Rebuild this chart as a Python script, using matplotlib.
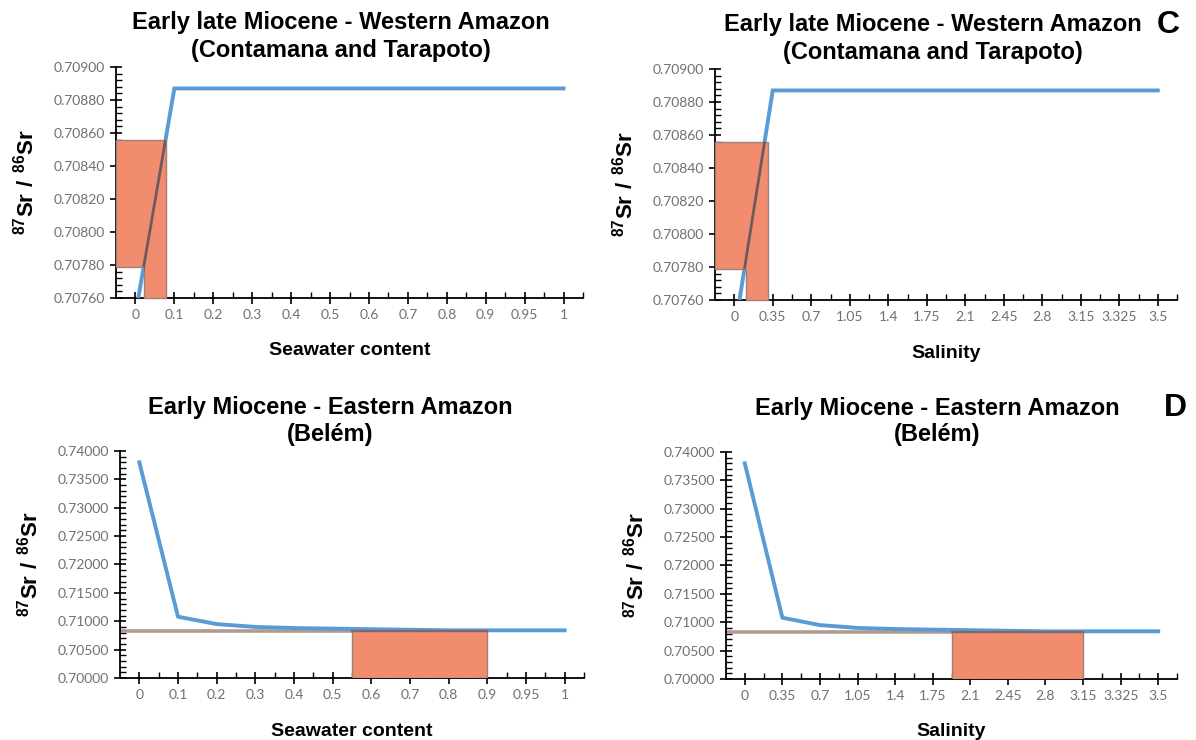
import matplotlib
matplotlib.use("Agg")
import matplotlib.pyplot as plt
from matplotlib.patches import Polygon, Rectangle
from matplotlib.ticker import FixedLocator, MultipleLocator, FormatStrFormatter

plt.rcParams['font.family'] = ['Liberation Sans', 'DejaVu Sans']
plt.rcParams['mathtext.fontset'] = 'custom'
plt.rcParams['mathtext.bf'] = 'Liberation Sans:bold'
plt.rcParams['mathtext.rm'] = 'Liberation Sans:bold'

# ---------------- data ----------------
seawater_labels = ['0', '0.1', '0.2', '0.3', '0.4', '0.5', '0.6', '0.7', '0.8', '0.9', '0.95', '1']
salinity_labels = ['0', '0.35', '0.7', '1.05', '1.4', '1.75', '2.1', '2.45', '2.8', '3.15', '3.325', '3.5']

west_sr_seawater = [0.70750, 0.70887, 0.70887, 0.70887, 0.70887, 0.70887,
                    0.70887, 0.70887, 0.70887, 0.70887, 0.70887, 0.70887]
west_sr_salinity = [0.70740, 0.70887, 0.70887, 0.70887, 0.70887, 0.70887,
                    0.70887, 0.70887, 0.70887, 0.70887, 0.70887, 0.70887]
east_sr = [0.73800, 0.71080, 0.70950, 0.70900, 0.70880, 0.70870,
           0.70860, 0.70850, 0.70840, 0.70840, 0.70840, 0.70840]

west_measured_range = (0.70779, 0.70856)
west_mix_seawater = (0.21, 0.78)     # in category positions
west_mix_salinity = (0.31, 0.87)
east_measured = 0.70825
east_mix = (5.5, 9.0)                # in category positions

west_ylim = (0.7076, 0.7090)
east_ylim = (0.7000, 0.7400)

BLUE = '#5B9BD5'
SALMON = '#F28C6E'
EDGE = '#9C8274'
TICKCOL = '#707070'

W, H = 1196, 740
fig = plt.figure(figsize=(W / 100, H / 100), dpi=100)


def px_axes(x0, x1, y0, y1):
    ax = fig.add_axes([x0 / W, 1 - y1 / H, (x1 - x0) / W, (y1 - y0) / H])
    ax._px = (x0, x1, y0, y1)
    return ax


def style(ax, labels, ylim, ymajor, yminor, title, xlabel, title_shift):
    n = len(labels)
    ax.set_xlim(-0.5, n - 0.5)
    ax.set_ylim(*ylim)
    for s in ('top', 'right'):
        ax.spines[s].set_visible(False)
    for s in ('left', 'bottom'):
        ax.spines[s].set_linewidth(1.3)
        ax.spines[s].set_color('black')
    ax.xaxis.set_major_locator(FixedLocator(list(range(n))))
    ax.xaxis.set_minor_locator(FixedLocator([i + 0.5 for i in range(n)]))
    ax.set_xticklabels(labels)
    ax.yaxis.set_major_locator(MultipleLocator(ymajor))
    ax.yaxis.set_minor_locator(MultipleLocator(yminor))
    ax.yaxis.set_major_formatter(FormatStrFormatter('%.5f'))
    ax.tick_params(which='major', direction='inout', length=8, width=1.2,
                   color='black', labelsize=10, labelcolor=TICKCOL, pad=4)
    ax.tick_params(which='minor', direction='in', length=4, width=1.0, color='black')
    for lab in ax.get_xticklabels() + ax.get_yticklabels():
        lab.set_family(['Lato', 'DejaVu Sans'])

    x0, x1, y0, y1 = ax._px
    xc = (x0 + x1) / 2 + title_shift
    line1, line2 = title.split('\n')
    fig.text(xc / W, 1 - (y0 - 44) / H, line1, fontsize=17, fontweight='bold',
             ha='center', va='center')
    fig.text(xc / W, 1 - (y0 - 17) / H, line2, fontsize=17, fontweight='bold',
             ha='center', va='center')
    fig.text((x0 + x1) / 2 / W, 1 - (y1 + 53) / H, xlabel, fontsize=14,
             fontweight='bold', ha='center', va='center')
    fig.text((x0 - 90) / W, 1 - (y0 + y1) / 2 / H, r'$\mathbf{^{87}Sr\ /\ ^{86}Sr}$',
             rotation=90, ha='center', va='center', fontsize=16)


def west_panel(ax, labels, values, mix, xlabel, title_shift):
    title = 'Early late Miocene - Western Amazon\n(Contamana and Tarapoto)'
    style(ax, labels, west_ylim, 0.0002, 0.00004, title, xlabel, title_shift)
    x = list(range(len(labels)))
    ax.plot(x, values, color=BLUE, lw=2.8, solid_joinstyle='miter', zorder=3)
    lo, hi = west_measured_range
    xl, xr = mix
    bottom = west_ylim[0]
    verts = [(-0.5, lo), (-0.5, hi), (xr, hi), (xr, bottom), (xl, bottom), (xl, lo)]
    poly = Polygon(verts, closed=True, facecolor=SALMON, edgecolor=EDGE, lw=1.0,
                   zorder=4, clip_on=False)
    ax.add_patch(poly)
    inner, = ax.plot(x, values, color='#6E5A5C', lw=2.0, zorder=5)
    inner.set_clip_path(poly)


def east_panel(ax, labels, xlabel, title_shift):
    title = 'Early Miocene - Eastern Amazon\n(Belém)'
    style(ax, labels, east_ylim, 0.005, 0.001, title, xlabel, title_shift)
    x = list(range(len(labels)))
    ax.plot([-0.5, east_mix[1]], [east_measured, east_measured], color='#B39A90',
            lw=2.6, zorder=2, solid_capstyle='butt')
    ax.plot(x, east_sr, color=BLUE, lw=2.8, zorder=3)
    rect = Rectangle((east_mix[0], east_ylim[0]), east_mix[1] - east_mix[0],
                     east_measured - east_ylim[0], facecolor=SALMON, edgecolor=EDGE,
                     lw=1.0, zorder=4)
    ax.add_patch(rect)
    ax.plot([east_mix[0], east_mix[1]], [east_measured, east_measured],
            color='#7C6A6A', lw=1.6, zorder=5)


ax1 = px_axes(116, 583, 67, 298)
ax2 = px_axes(715, 1177, 69, 300)
ax3 = px_axes(120, 584, 451, 678)
ax4 = px_axes(726, 1177, 452, 679)

west_panel(ax1, seawater_labels, west_sr_seawater, west_mix_seawater, 'Seawater content', -9)
west_panel(ax2, salinity_labels, west_sr_salinity, west_mix_salinity, 'Salinity', -13)
east_panel(ax3, seawater_labels, 'Seawater content', -22)
east_panel(ax4, salinity_labels, 'Salinity', -14)

fig.text(1168 / W, 1 - 25 / H, 'C', fontsize=23, fontweight='bold', ha='center', va='center')
fig.text(1175 / W, 1 - 408 / H, 'D', fontsize=23, fontweight='bold', ha='center', va='center')

fig.savefig('out.png', dpi=100)
